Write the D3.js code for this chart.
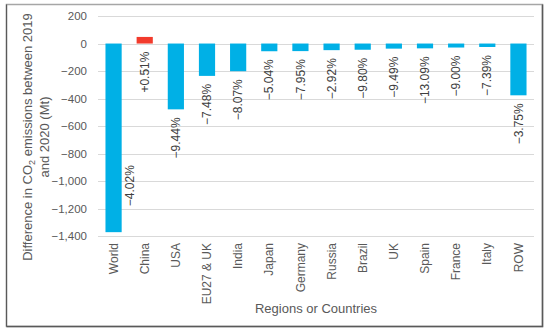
<!DOCTYPE html>
<html>
<head>
<meta charset="utf-8">
<script src="https://cdn.jsdelivr.net/npm/d3@7"></script>
<style>
body { margin:0; background:#fff; }
svg text { font-family: "Liberation Sans", Arial, sans-serif; }
</style>
</head>
<body>
<svg id="chart" width="550" height="335"></svg>
<script>
// ---- data ----
var categories = ["World","China","USA","EU27 & UK","India","Japan","Germany","Russia","Brazil","UK","Spain","France","Italy","ROW"]
var diffMt = [-1370, 48, -478, -235, -201, -56, -55, -48, -45, -37, -35, -29, -25, -376]
var pctLabels = ["\u22124.02%","+0.51%","\u22129.44%","\u22127.48%","\u22128.07%","\u22125.04%","\u22127.95%","\u22122.92%","\u22129.80%","\u22129.49%","\u221213.09%","\u22129.00%","\u22127.39%","\u22123.75%"]
var yTicks = [200, 0, -200, -400, -600, -800, -1000, -1200, -1400]

var svg = d3.select("#chart")

// frame
svg.append("rect")
  .attr("x",6.5).attr("y",4.5).attr("width",536).attr("height",322)
  .attr("fill","#fff").attr("stroke","#a6a6a6").attr("stroke-width",1.5)
svg.append("path")
  .attr("d","M542.5,4.5 L542.5,326.5 L6.5,326.5")
  .attr("fill","none").attr("stroke","#595959").attr("stroke-width",1.5)
svg.append("line")
  .attr("x1",6.5).attr("y1",4.5).attr("x2",6.5).attr("y2",326.5)
  .attr("stroke","#595959").attr("stroke-width",1.2)

var left = 98, right = 534
var x = d3.scaleBand().domain(categories).range([left, right]).paddingInner(0.48).paddingOuter(0.24)
var y = d3.scaleLinear().domain([-1400, 200]).range([236.3, 16])

// gridlines
svg.append("g")
  .selectAll("line").data(yTicks).join("line")
  .attr("x1",left).attr("x2",right)
  .attr("y1",function(d){ return Math.round(y(d))+0.5 })
  .attr("y2",function(d){ return Math.round(y(d))+0.5 })
  .attr("stroke","#d9d9d9").attr("stroke-width",1)

// y axis labels
var fmt = d3.format(",")
svg.append("g")
  .selectAll("text").data(yTicks).join("text")
  .attr("x",87).attr("y",function(d){ return y(d) })
  .attr("dy","0.35em")
  .attr("text-anchor","end")
  .attr("font-size","11.5px")
  .attr("fill","#595959")
  .text(function(d){ return fmt(d).replace("-","\u2212") })

// bars
svg.append("g")
  .selectAll("rect").data(diffMt).join("rect")
  .attr("x",function(d,i){ return x(categories[i]) })
  .attr("width",x.bandwidth())
  .attr("y",function(d){ return y(Math.max(0,d)) })
  .attr("height",function(d){ return Math.abs(y(d)-y(0)) })
  .attr("fill",function(d){ return d>0 ? "#f23b2c" : "#00b0e6" })

// value labels, rotated
var plotBottom = y(-1400)
svg.append("g")
  .selectAll("text").data(diffMt).join("text")
  .attr("transform",function(d,i){
      var cx = x(categories[i]) + x.bandwidth()/2
      var ty = Math.max(y(0), y(d)) + 8
      if (ty + 45 > plotBottom) { // no room below: put it beside the bar
          cx = x(categories[i]) + x.bandwidth() + 8
          ty = y(d) - 67
      }
      return "translate("+cx+","+ty+")rotate(-90)"
  })
  .attr("text-anchor","end")
  .attr("dy","0.35em")
  .attr("font-size","12px")
  .attr("fill","#404040")
  .text(function(d,i){ return pctLabels[i] })

// category labels
svg.append("g")
  .selectAll("text").data(categories).join("text")
  .attr("transform",function(d){ return "translate("+(x(d)+x.bandwidth()/2)+",243)rotate(-90)" })
  .attr("text-anchor","end")
  .attr("dy","0.35em")
  .attr("font-size","12px")
  .attr("fill","#595959")
  .text(function(d){ return d })

// axis titles
svg.append("text")
  .attr("x",(left+right)/2).attr("y",313)
  .attr("text-anchor","middle")
  .attr("font-size","13px")
  .attr("fill","#595959")
  .text("Regions or Countries")

var yt = svg.append("text")
  .attr("transform","translate(27,137)rotate(-90)")
  .attr("text-anchor","middle")
  .attr("font-size","13px")
  .attr("fill","#595959")
var l1 = yt.append("tspan").attr("x",0).attr("dy","0.35em")
l1.append("tspan").text("Difference in CO")
l1.append("tspan").attr("font-size","9px").attr("dy","3").text("2")
l1.append("tspan").attr("dy","-3").text(" emissions between 2019")
yt.append("tspan").attr("x",0).attr("dy","17").text("and 2020 (Mt)")
</script>
</body>
</html>
